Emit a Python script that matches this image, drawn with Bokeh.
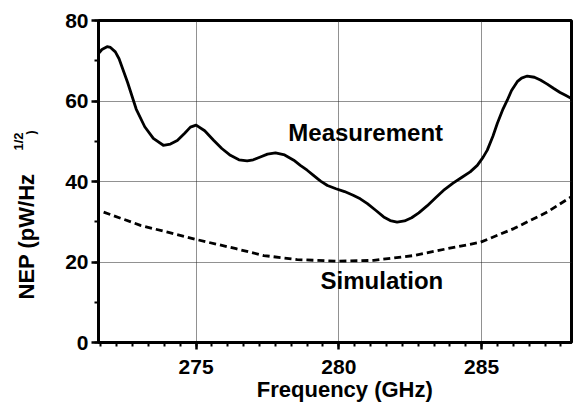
import math
from bokeh.plotting import figure
from bokeh.models import Label, SingleIntervalTicker, Range1d
from bokeh.layouts import row, column
from bokeh.embed import file_html
from bokeh.resources import INLINE

# ---- data ----
freq_meas = [271.58, 271.7, 271.88, 272.0, 272.17, 272.3, 272.6, 272.9, 273.2, 273.5,
             273.85, 274.1, 274.34, 274.6, 274.8, 275.0, 275.3, 275.62, 275.9, 276.2,
             276.5, 276.79, 277.0, 277.25, 277.5, 277.78, 278.1, 278.42, 278.65, 278.89,
             279.1, 279.36, 279.6, 279.9, 280.2, 280.5, 280.75, 281.0, 281.3, 281.57,
             281.8, 282.04, 282.3, 282.55, 282.8, 283.1, 283.4, 283.7, 284.0, 284.3,
             284.6, 284.85, 285.05, 285.2, 285.4, 285.55, 285.75, 285.9, 286.05, 286.25,
             286.4, 286.6, 286.85, 287.06, 287.3, 287.53, 287.75, 287.94, 288.15]
nep_meas = [71.8, 72.8, 73.5, 73.3, 72.2, 70.5, 64.6, 58.0, 53.6, 50.7,
            49.0, 49.3, 50.2, 52.0, 53.5, 54.0, 52.6, 50.2, 48.2, 46.5,
            45.4, 45.1, 45.4, 46.1, 46.8, 47.1, 46.6, 45.3, 44.0, 42.8,
            41.6, 40.1, 39.0, 38.2, 37.5, 36.6, 35.7, 34.5, 32.8, 31.2,
            30.3, 29.9, 30.2, 31.0, 32.2, 34.0, 36.0, 38.0, 39.6, 41.0,
            42.4, 44.0, 46.0, 47.8, 51.3, 54.4, 58.0, 60.2, 62.6, 64.8,
            65.7, 66.2, 65.9, 65.2, 64.2, 63.1, 62.1, 61.4, 60.6]

freq_sim = [271.76, 273.05, 274.0, 275.0, 276.4, 277.37, 278.54, 279.94, 281.22, 282.62,
            283.79, 284.96, 286.13, 287.3, 288.12]
nep_sim = [32.4, 29.1, 27.4, 25.6, 23.3, 21.6, 20.6, 20.2, 20.4, 21.6,
           23.3, 24.9, 28.3, 32.4, 36.1]

x_major_step = 5
y_major_step = 20
x_title = "Frequency (GHz)"
y_title_main = "NEP (pW/Hz"
y_title_sup = "1/2"
y_title_end = ")"
annotations = ["Measurement", "Simulation"]

FONT = "Liberation Sans"


def blank_panel(w, h, xr, yr):
    f = figure(width=w, height=h, output_backend="svg", toolbar_location=None,
               x_range=Range1d(*xr), y_range=Range1d(*yr),
               x_axis_location=None, y_axis_location=None, min_border=0)
    f.outline_line_color = None
    f.grid.visible = False
    f.background_fill_color = "white"
    f.border_fill_color = "white"
    return f


def text_label(x, y, txt, size, angle=0.0):
    return Label(x=x, y=y, angle=angle, text=txt, text_font=FONT,
                 text_font_style="bold", text_font_size=size,
                 text_baseline="middle", text_align="center", text_color="black")


# ---- narrow left panel holding the rotated y title (page pixel coordinates) ----
tp = blank_panel(45, 402, (0, 45), (402, 0))
tp.add_layout(text_label(25.5, 236, y_title_main, "22px", math.pi / 2))
tp.add_layout(text_label(18.0, 141, y_title_sup, "13px", math.pi / 2))
tp.add_layout(text_label(30.5, 132, y_title_end, "12px", math.pi / 2))

# ---- bottom panel holding the x title ----
bp = blank_panel(530, 26, (45, 575), (402, 376))
bp.add_layout(text_label(321.0, 389.2, x_title, "22px"))

# ---- main chart ----
p = figure(width=530, height=376, output_backend="svg", toolbar_location=None,
           x_range=Range1d(271.58, 288.15), y_range=Range1d(0, 80),
           min_border_left=53, min_border_right=4, min_border_top=20, min_border_bottom=34)

p.background_fill_color = "white"
p.border_fill_color = "white"
p.outline_line_color = "black"
p.outline_line_width = 3

p.xaxis.ticker = SingleIntervalTicker(interval=x_major_step, num_minor_ticks=9)
p.yaxis.ticker = SingleIntervalTicker(interval=y_major_step, num_minor_ticks=2)

for ax in (p.xaxis, p.yaxis):
    ax.axis_line_width = 3
    ax.axis_line_color = "black"
    ax.major_tick_line_width = 2.5
    ax.minor_tick_line_width = 2
    ax.major_tick_line_color = "black"
    ax.minor_tick_line_color = "black"
    ax.major_tick_out = 7
    ax.major_tick_in = 0
    ax.minor_tick_out = 4
    ax.minor_tick_in = 0
    ax.major_label_text_font = FONT
    ax.major_label_text_font_style = "bold"
    ax.major_label_text_font_size = "21px"
    ax.major_label_text_color = "black"
    ax.axis_label = None

p.xaxis.major_label_standoff = 10
p.yaxis.major_label_standoff = 3

for g in (p.xgrid, p.ygrid):
    g.grid_line_color = "#222222"
    g.grid_line_dash = "1 1"
    g.grid_line_width = 1

p.line(freq_sim, nep_sim, line_color="black", line_width=2.8, line_dash="7 4")
p.line(freq_meas, nep_meas, line_color="black", line_width=2.8, line_join="round")

p.add_layout(Label(x=278.23, y=52.2, text=annotations[0], text_font=FONT,
                   text_font_style="bold", text_font_size="24px",
                   text_baseline="alphabetic", text_align="left", text_color="black"))
p.add_layout(Label(x=279.36, y=15.3, text=annotations[1], text_font=FONT,
                   text_font_style="bold", text_font_size="24px",
                   text_baseline="alphabetic", text_align="left", text_color="black"))

layout = row(tp, column(p, bp))
open("out.html", "w").write(file_html(layout, INLINE))
